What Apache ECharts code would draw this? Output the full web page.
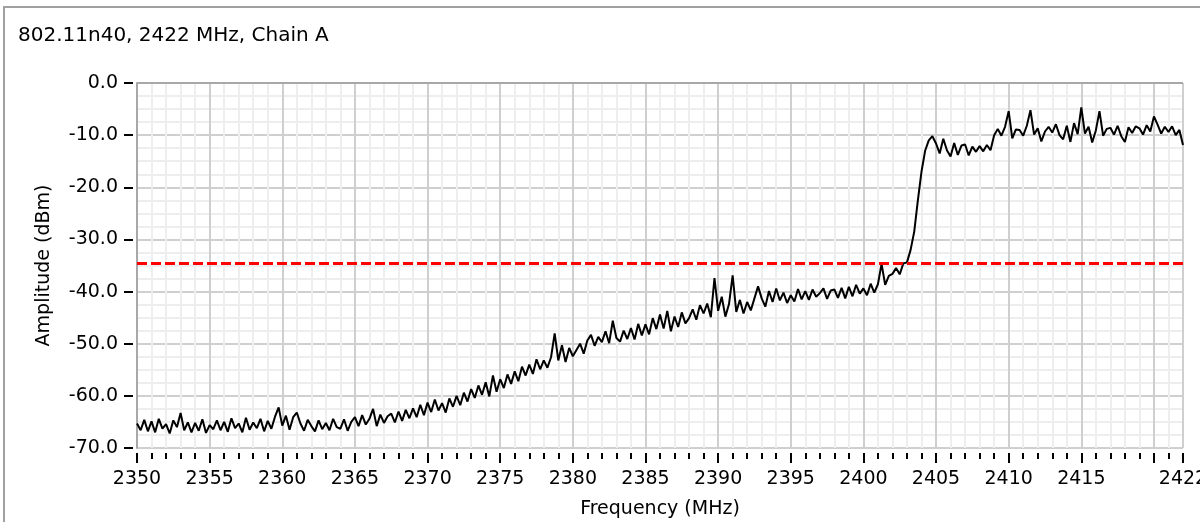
<!DOCTYPE html>
<html>
<head>
<meta charset="utf-8">
<script src="https://cdn.jsdelivr.net/npm/echarts@6/dist/echarts.min.js"></script>
<style>html,body{margin:0;padding:0;background:#fff;}#chart{width:1200px;height:522px;}</style>
</head>
<body>
<div id="chart"></div>
<script>
const titleText = '802.11n40, 2422 MHz, Chain A';
const xName = 'Frequency (MHz)';
const yName = 'Amplitude (dBm)';
const freqStart = 2350;
const freqStep = 0.25;
const limitLine = -34.5;
// Amplitude (dBm), 4 samples per MHz starting at 2350 MHz
const amplitude = [
  -65.3, -66.6, -64.6, -66.8,   // 2350
  -64.9, -67.0, -64.4, -66.3,   // 2351
  -65.4, -67.2, -64.7, -66.0,   // 2352
  -63.3, -66.6, -65.1, -67.0,   // 2353
  -65.2, -66.7, -64.5, -67.1,   // 2354
  -65.6, -66.4, -64.7, -66.6,   // 2355
  -65.0, -66.9, -64.3, -66.2,   // 2356
  -65.3, -67.0, -64.2, -66.5,   // 2357
  -65.1, -66.2, -64.4, -66.8,   // 2358
  -64.8, -66.3, -64.0, -62.2,   // 2359
  -65.7, -63.8, -66.5, -64.1,   // 2360
  -63.2, -65.3, -66.7, -64.6,   // 2361
  -65.8, -66.8, -64.7, -66.4,   // 2362
  -65.2, -66.6, -64.4, -66.0,   // 2363
  -66.3, -64.5, -66.7, -65.0,   // 2364
  -64.1, -65.8, -63.7, -65.5,   // 2365
  -64.4, -62.5, -65.8, -63.6,   // 2366
  -65.2, -63.9, -63.4, -65.1,   // 2367
  -63.0, -64.8, -62.7, -64.3,   // 2368
  -62.4, -64.1, -61.7, -63.7,   // 2369
  -61.3, -63.1, -60.7, -62.8,   // 2370
  -61.4, -63.2, -60.5, -62.1,   // 2371
  -60.0, -61.8, -59.4, -61.1,   // 2372
  -58.7, -60.4, -58.0, -59.8,   // 2373
  -57.4, -60.1, -56.1, -59.2,   // 2374
  -56.8, -58.5, -55.9, -57.7,   // 2375
  -55.3, -57.2, -54.4, -56.1,   // 2376
  -54.0, -55.8, -53.0, -54.9,   // 2377
  -53.2, -54.6, -52.6, -48.0,   // 2378
  -53.2, -50.3, -53.5, -50.8,   // 2379
  -52.4, -51.2, -50.0, -51.9,   // 2380
  -49.4, -48.3, -50.4, -48.7,   // 2381
  -49.7, -47.6, -49.9, -45.6,   // 2382
  -48.9, -49.6, -47.5, -49.1,   // 2383
  -47.0, -49.2, -46.2, -48.4,   // 2384
  -46.3, -48.2, -45.1, -47.2,   // 2385
  -44.4, -47.1, -43.7, -47.6,   // 2386
  -44.8, -46.8, -44.0, -46.1,   // 2387
  -45.1, -43.4, -45.4, -42.6,   // 2388
  -44.2, -42.3, -44.9, -37.4,   // 2389
  -43.7, -41.0, -44.8, -42.4,   // 2390
  -36.9, -43.9, -41.6, -44.2,   // 2391
  -42.0, -43.6, -41.3, -39.0,   // 2392
  -41.3, -42.9, -39.9, -42.0,   // 2393
  -39.4, -41.7, -40.2, -42.2,   // 2394
  -40.7, -41.9, -39.5, -41.5,   // 2395
  -39.9, -41.6, -39.6, -41.0,   // 2396
  -40.3, -39.4, -41.4, -39.8,   // 2397
  -39.6, -41.2, -39.3, -41.3,   // 2398
  -39.1, -40.9, -38.7, -40.4,   // 2399
  -39.4, -40.7, -38.5, -40.2,   // 2400
  -38.6, -34.7, -38.7, -37.0,   // 2401
  -36.6, -35.5, -36.7, -34.6,   // 2402
  -34.4, -32.0, -28.5, -22.5,   // 2403
  -17.0, -13.0, -11.0, -10.2,   // 2404
  -11.6, -13.5, -10.7, -12.9,   // 2405
  -14.1, -11.5, -13.8, -12.0,   // 2406
  -11.8, -13.9, -12.2, -13.2,   // 2407
  -12.1, -13.1, -11.9, -12.9,   // 2408
  -10.0, -8.8, -10.1, -8.4,     // 2409
  -5.4, -10.6, -8.9, -9.0,      // 2410
  -10.1, -8.2, -5.2, -9.9,      // 2411
  -8.7, -11.2, -9.3, -8.4,      // 2412
  -9.5, -7.9, -10.0, -10.8,     // 2413
  -8.2, -11.3, -7.7, -9.8,      // 2414
  -4.7, -9.7, -8.4, -11.4,      // 2415
  -9.1, -5.4, -10.1, -8.8,      // 2416
  -8.6, -9.9, -8.2, -10.2,      // 2417
  -11.3, -8.5, -9.6, -8.3,      // 2418
  -8.7, -9.9, -8.1, -9.3,       // 2419
  -6.4, -8.0, -9.7, -8.4,       // 2420
  -9.4, -8.3, -10.0, -9.0,      // 2421
  -11.9                         // 2422
];
const xMin = 2350, xMax = 2422, xInterval = 5;
const yMin = -70, yMax = 0, yInterval = 10;

const seriesData = amplitude.map((v, i) => [freqStart + i * freqStep, v]);
const FONT = 'DejaVu Sans';

const chart = echarts.init(document.getElementById('chart'), null, {renderer: 'canvas'});
chart.setOption({
  animation: false,
  backgroundColor: '#ffffff',
  title: {
    text: titleText, left: 13, top: 21,
    textStyle: {fontFamily: FONT, fontSize: 20, fontWeight: 'normal', color: '#000'}
  },
  graphic: [{
    type: 'rect', shape: {x: 4, y: 7, width: 1210, height: 530},
    style: {fill: 'none', stroke: '#a0a0a0', lineWidth: 2}, silent: true, z: -1
  }, {
    type: 'line', shape: {x1: 137, y1: 83, x2: 1183, y2: 83},
    style: {stroke: '#a8a8a8', lineWidth: 2}, silent: true, z: 5
  }],
  grid: {left: 137, right: 17, top: 83, bottom: 74, containLabel: false, outerBoundsMode: 'none'},
  xAxis: {
    type: 'value', min: xMin, max: xMax, interval: xInterval,
    position: 'bottom', offset: 5,
    name: xName, nameLocation: 'middle', nameGap: 47,
    nameTextStyle: {fontFamily: FONT, fontSize: 19, color: '#000'},
    axisLine: {show: false, onZero: false},
    axisTick: {show: true, length: 10, lineStyle: {color: '#000', width: 2}},
    minorTick: {show: true, splitNumber: 5, length: 6, lineStyle: {color: '#000', width: 2}},
    axisLabel: {
      margin: 17, fontFamily: FONT, fontSize: 19, color: '#000',
      formatter: v => (v === 2420 ? '' : String(v))
    },
    splitLine: {show: true, lineStyle: {color: '#cfcfcf', width: 2}},
    minorSplitLine: {show: true, lineStyle: {color: '#eeeeee', width: 2}}
  },
  yAxis: [{
    type: 'value', min: yMin, max: yMax, interval: yInterval,
    axisLine: {show: true, onZero: false, lineStyle: {color: '#a8a8a8', width: 2}},
    axisTick: {show: false}, axisLabel: {show: false},
    splitLine: {show: true, lineStyle: {color: '#cfcfcf', width: 2}},
    minorTick: {show: false, splitNumber: 4},
    minorSplitLine: {show: true, lineStyle: {color: '#eeeeee', width: 2}}
  }, {
    type: 'value', min: yMin, max: yMax, interval: yInterval, position: 'left',
    offset: 4,
    name: yName, nameLocation: 'middle', nameGap: 79, nameRotate: 90,
    nameTextStyle: {fontFamily: FONT, fontSize: 19, color: '#000'},
    axisLine: {show: false, onZero: false},
    axisTick: {show: true, length: 9, lineStyle: {color: '#000', width: 2}},
    axisLabel: {margin: 15, fontFamily: FONT, fontSize: 19, color: '#000',
      formatter: v => v.toFixed(1)},
    splitLine: {show: false}
  }],
  series: [{
    type: 'line', xAxisIndex: 0, yAxisIndex: 0,
    data: seriesData, showSymbol: false, symbol: 'none',
    lineStyle: {color: '#000', width: 2},
    markLine: {
      silent: true, symbol: 'none', label: {show: false},
      lineStyle: {color: '#ff0000', width: 3, type: [10, 4]},
      data: [{yAxis: limitLine}]
    },
    z: 3
  }]
});
</script>
</body>
</html>
